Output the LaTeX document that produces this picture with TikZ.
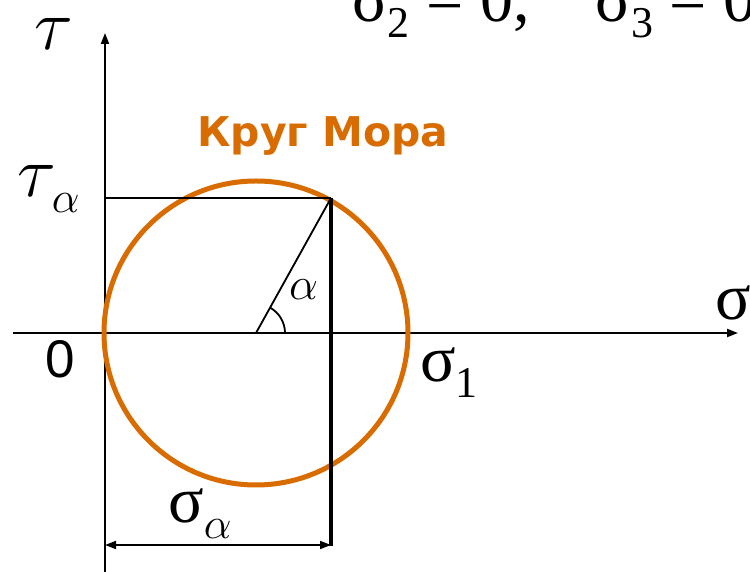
\RequirePackage{fix-cm}
\documentclass[tikz,border=0pt]{standalone}
\usepackage{fontspec}
\setmainfont{Liberation Serif}
\newfontfamily\zerofont{Liberation Sans}
\newfontfamily\titlefont{DejaVu Sans}
\usetikzlibrary{arrows.meta}
\definecolor{mohrOrange}{HTML}{D86C00}
\newcommand\gk{\fontsize{66}{66}\selectfont}
\newcommand\gsub[1]{\raisebox{-16pt}{\fontsize{44}{44}\selectfont #1}}

\begin{document}
\begin{tikzpicture}[
  x=1pt, y=1pt,
  axis/.style={line width=2pt, -{Triangle[length=11pt,width=8pt]}},
  guide/.style={line width=1.8pt},
  dim/.style={line width=1.8pt, {Triangle[length=11pt,width=8pt]}-{Triangle[length=11pt,width=8pt]}},
  lbl/.style={inner sep=0pt, anchor=base west, font=\gk}
]
\useasboundingbox (0,0) rectangle (750,572);
\clip (0,0) rectangle (750,572);

% points
\coordinate (O) at (105,239);
\coordinate (C) at (256,239);
\coordinate (P) at (331,374);
\coordinate (ty) at (105,374);
\coordinate (pbot) at (331,26);
\coordinate (tbot) at (105,0);
\coordinate (ttop) at (105,539);
\coordinate (sl) at (13,239);
\coordinate (sr) at (738,239);
\coordinate (da) at (105,27);
\coordinate (db) at (331,27);

% axes
\draw[axis] (tbot) -- (ttop);
\draw[axis] (sl) -- (sr);

% Mohr circle
\draw[mohrOrange, line width=5pt] (C) circle[radius=152pt];

\draw[guide] (ty) -- (P);
\draw[guide] (C) -- (P);
\draw[line width=3.5pt] (P) -- (pbot);
\draw[guide] (C) ++(29pt,0) arc[start angle=0, end angle=61, radius=29pt];
\draw[dim] (da) -- (db);

% labels
\node[lbl, font=\fontsize{72}{72}\selectfont] (tau) at (34,522) {$\tau$};
\node[lbl, font=\fontsize{72}{72}\selectfont] (taua) at (17,375) {$\tau$\kern-4pt\gsub{$\alpha$}};
\node[lbl, font=\fontsize{46}{46}\selectfont] (alpha) at (289,272) {$\alpha$};
\node[inner sep=0pt, anchor=base, text=mohrOrange,
      font=\titlefont\bfseries\fontsize{41}{41}\selectfont] (mohr) at (323,425) {Круг Мора};
\node[inner sep=0pt, anchor=base, font=\zerofont\fontsize{53}{53}\selectfont] (zero) at (60,194) {0};
\node[lbl] (s1) at (420,190) {σ\gsub{1}};
\node[lbl] (sig) at (715,252) {σ};
\node[lbl] (sa) at (168,49) {σ\gsub{$\alpha$}};
\node[lbl] (cond) at (352,550) {σ\gsub{2} = 0,\quad σ\gsub{3} = 0};
\end{tikzpicture}
\end{document}
